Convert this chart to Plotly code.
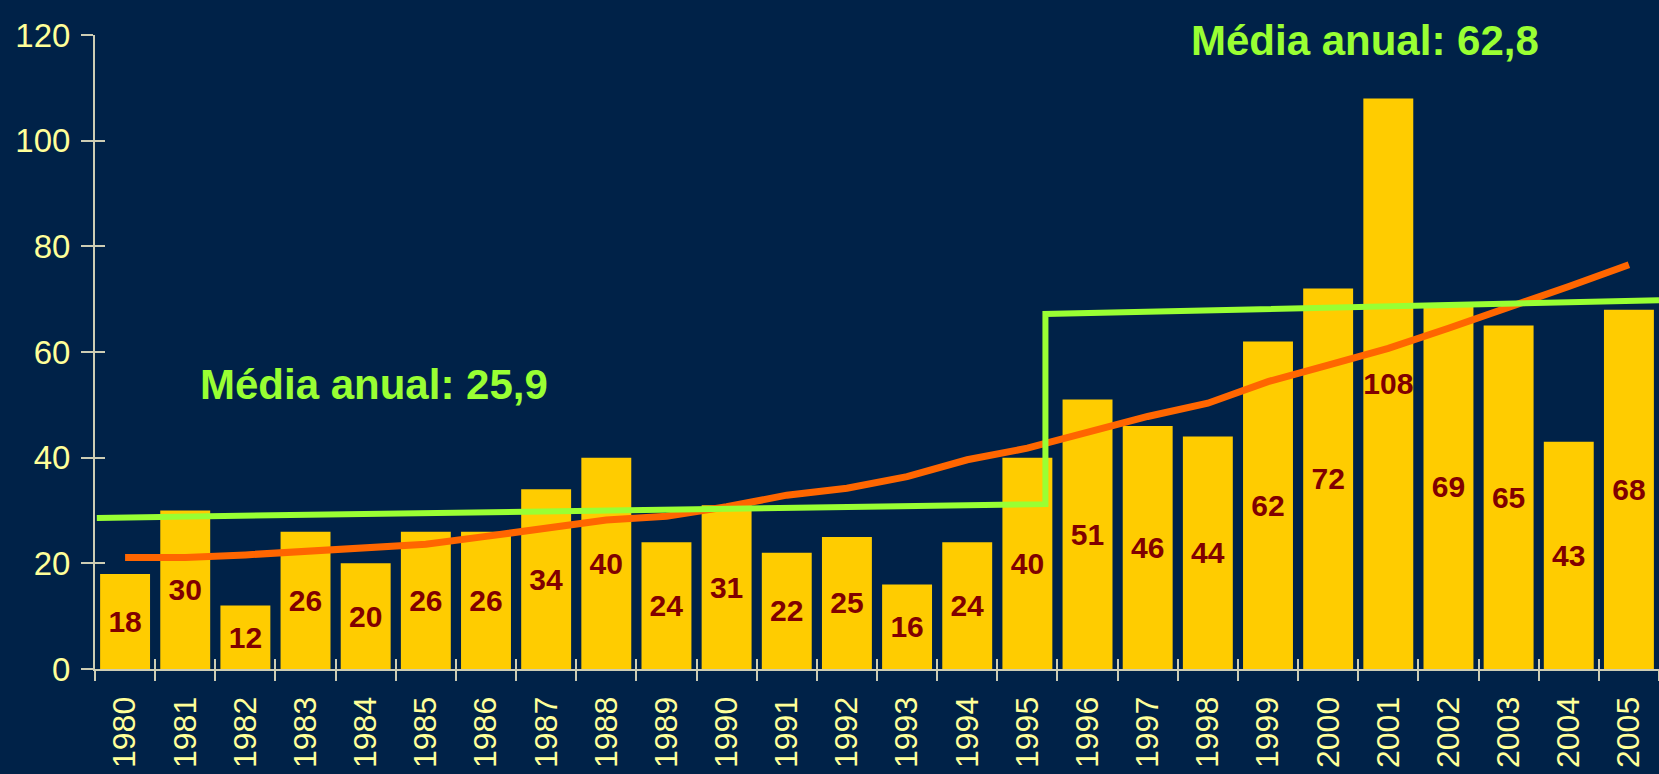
import plotly.graph_objects as go

# ---- data ----
YEARS = list(range(1980, 2006))
VALUES = [18, 30, 12, 26, 20, 26, 26, 34, 40, 24, 31, 22, 25, 16, 24, 40,
          51, 46, 44, 62, 72, 108, 69, 65, 43, 68]
LABELS = [str(v) for v in VALUES]

# orange trend line, value read at each year
TREND = [21.1, 21.1, 21.6, 22.3, 23.0, 23.6, 25.1, 26.7, 28.2, 28.9,
         30.7, 32.9, 34.2, 36.4, 39.6, 41.8, 44.7, 47.8, 50.3, 54.4,
         57.5, 60.7, 64.5, 68.3, 72.4, 76.5]

# green "average" step line (hand drawn in the original)
GREEN_X = [1979.53, 1995.3, 1995.3, 2005.5]
GREEN_Y = [28.6, 31.2, 67.2, 69.8]

Y_TICKS = [0, 20, 40, 60, 80, 100, 120]
AVG_TEXT_1 = "Média anual: 25,9"
AVG_TEXT_2 = "Média anual: 62,8"

BG = "#002248"
AXIS_COL = "#CDCDB4"
FAMILY = "Liberation Sans, Arial, sans-serif"
X_TICK_FONT = dict(family=FAMILY, size=32, color="#FFFF99")
Y_TICK_FONT = dict(family=FAMILY, size=33, color="#FFFF99")

x_lo, x_hi = YEARS[0] - 0.5, YEARS[-1] + 0.5
boundaries = [y - 0.5 for y in YEARS] + [YEARS[-1] + 0.5]

fig = go.Figure()

fig.add_trace(go.Bar(
    x=YEARS, y=VALUES, marker=dict(color="#FFCC00", line=dict(width=0)),
    text=LABELS, textposition="inside", insidetextanchor="middle",
    constraintext="none", textangle=0,
    textfont=dict(family=FAMILY, size=30, color="#800000", weight="bold"),
    showlegend=False, hoverinfo="skip",
))

fig.add_trace(go.Scatter(
    x=YEARS, y=TREND, mode="lines",
    line=dict(color="#FF6600", width=7),
    showlegend=False, hoverinfo="skip",
))

fig.add_trace(go.Scatter(
    x=GREEN_X, y=GREEN_Y, mode="lines",
    line=dict(color="#99FF33", width=6),
    showlegend=False, hoverinfo="skip",
))

# dummy traces so that overlay axes (for crossing tick marks) are drawn
fig.add_trace(go.Scatter(x=[None], y=[None], xaxis="x2", yaxis="y",
                         showlegend=False, hoverinfo="skip"))
fig.add_trace(go.Scatter(x=[None], y=[None], xaxis="x3", yaxis="y",
                         showlegend=False, hoverinfo="skip"))
fig.add_trace(go.Scatter(x=[None], y=[None], xaxis="x", yaxis="y2",
                         showlegend=False, hoverinfo="skip"))

fig.add_annotation(x=1984.13, y=53.8, xref="x", yref="y", text="<b>" + AVG_TEXT_1 + "</b>",
                   showarrow=False,
                   font=dict(family=FAMILY, size=42, color="#99FF33"))
fig.add_annotation(x=2000.61, y=119.0, xref="x", yref="y", text="<b>" + AVG_TEXT_2 + "</b>",
                   showarrow=False,
                   font=dict(family=FAMILY, size=42, color="#99FF33"))

fig.update_layout(
    width=1659, height=774,
    margin=dict(l=95, r=0, t=35, b=105, pad=0),
    paper_bgcolor=BG, plot_bgcolor=BG,
    bargap=0.17,
    xaxis=dict(
        range=[x_lo, x_hi], tickmode="array", tickvals=YEARS,
        ticktext=[str(y) for y in YEARS], tickangle=-90, ticks="",
        tickfont=X_TICK_FONT, showline=True, linecolor=AXIS_COL, linewidth=2,
        showgrid=False, zeroline=False, fixedrange=True, ticklabelstandoff=13,
    ),
    xaxis2=dict(
        overlaying="x", anchor="y", range=[x_lo, x_hi], tickmode="array",
        tickvals=boundaries, ticks="outside", ticklen=11, tickwidth=2,
        tickcolor=AXIS_COL, showticklabels=False, showline=False,
        showgrid=False, zeroline=False,
    ),
    xaxis3=dict(
        overlaying="x", anchor="y", range=[x_lo, x_hi], tickmode="array",
        tickvals=boundaries, ticks="inside", ticklen=10, tickwidth=2,
        tickcolor=AXIS_COL, showticklabels=False, showline=False,
        showgrid=False, zeroline=False,
    ),
    yaxis=dict(
        range=[0, 120], tickmode="array", tickvals=Y_TICKS,
        ticks="outside", ticklen=12, tickwidth=2, tickcolor=AXIS_COL,
        tickfont=Y_TICK_FONT, showline=True, linecolor=AXIS_COL, linewidth=2,
        showgrid=False, zeroline=False, ticklabelstandoff=4,
    ),
    yaxis2=dict(
        overlaying="y", anchor="x", range=[0, 120], tickmode="array",
        tickvals=Y_TICKS, ticks="inside", ticklen=10, tickwidth=2,
        tickcolor=AXIS_COL, showticklabels=False, showline=False,
        showgrid=False, zeroline=False,
    ),
)

fig.write_html(
    "out.html",
    config={"displayModeBar": False},
    post_script="document.body.style.margin='0';document.body.style.overflow='hidden';"
                "document.documentElement.style.background='" + BG + "';",
)
